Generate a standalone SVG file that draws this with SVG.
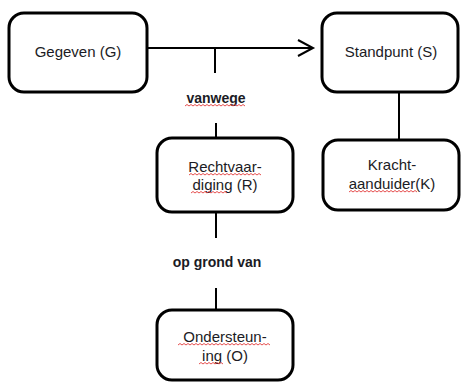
<svg xmlns="http://www.w3.org/2000/svg" width="461" height="382" viewBox="0 0 461 382">
<style>
.box{fill:#fff;stroke:#000;stroke-width:3}
.ln{fill:none;stroke:#000;stroke-width:2}
.t{font-family:"Liberation Sans",Arial,sans-serif;font-size:15px;fill:#1b1b24;text-anchor:middle}
.b{font-weight:bold;font-size:14px}
.sp{fill:none;stroke:#e23b3b;stroke-width:0.9}
</style>
<rect width="461" height="382" fill="#fff"/>
<g id="connectors">
<line class="ln" x1="147" y1="48" x2="313" y2="48"/>
<polyline class="ln" points="298,40 313,48 298,56"/>
<line class="ln" x1="215" y1="48" x2="215" y2="73"/>
<line class="ln" x1="216" y1="123" x2="216" y2="138"/>
<line class="ln" x1="216" y1="212" x2="216" y2="238"/>
<line class="ln" x1="216" y1="288" x2="216" y2="310"/>
<line class="ln" x1="399" y1="92" x2="399" y2="140"/>
<text class="t b" x="216" y="103">vanwege</text>
<path class="sp" d="M185,106 l2,-1.5 l2,1.5 l2,-1.5 l2,1.5 l2,-1.5 l2,1.5 l2,-1.5 l2,1.5 l2,-1.5 l2,1.5 l2,-1.5 l2,1.5 l2,-1.5 l2,1.5 l2,-1.5 l2,1.5 l2,-1.5 l2,1.5 l2,-1.5 l2,1.5 l2,-1.5 l2,1.5 l2,-1.5 l2,1.5 l2,-1.5 l2,1.5 l2,-1.5 l2,1.5 l2,-1.5 l2,1.5"/>
<text class="t b" x="217" y="267">op grond van</text>
</g>
<g id="node-G">
<rect class="box" x="9" y="13" width="138" height="79" rx="15"/>
<text class="t" x="78" y="57">Gegeven (G)</text>
</g>
<g id="node-S">
<rect class="box" x="322" y="13" width="136" height="79" rx="15"/>
<text class="t" x="391" y="57">Standpunt (S)</text>
</g>
<g id="node-R">
<rect class="box" x="157" y="138" width="136" height="74" rx="15"/>
<text class="t" x="225" y="172">Rechtvaar-</text>
<text class="t" x="225" y="190">diging (R)</text>
<path class="sp" d="M189,175 l2,-1.5 l2,1.5 l2,-1.5 l2,1.5 l2,-1.5 l2,1.5 l2,-1.5 l2,1.5 l2,-1.5 l2,1.5 l2,-1.5 l2,1.5 l2,-1.5 l2,1.5 l2,-1.5 l2,1.5 l2,-1.5 l2,1.5 l2,-1.5 l2,1.5 l2,-1.5 l2,1.5 l2,-1.5 l2,1.5 l2,-1.5 l2,1.5 l2,-1.5 l2,1.5 l2,-1.5 l2,1.5 l2,-1.5 l2,1.5 l2,-1.5 l2,1.5 l2,-1.5 l2,1.5"/>
<path class="sp" d="M191,193 l2,-1.5 l2,1.5 l2,-1.5 l2,1.5 l2,-1.5 l2,1.5 l2,-1.5 l2,1.5 l2,-1.5 l2,1.5 l2,-1.5 l2,1.5 l2,-1.5 l2,1.5 l2,-1.5 l2,1.5 l2,-1.5 l2,1.5"/>
</g>
<g id="node-K">
<rect class="box" x="323" y="140" width="136" height="70" rx="15"/>
<text class="t" x="392" y="170">Kracht-</text>
<text class="t" x="392" y="189">aanduider(K)</text>
<path class="sp" d="M349,192 l2,-1.5 l2,1.5 l2,-1.5 l2,1.5 l2,-1.5 l2,1.5 l2,-1.5 l2,1.5 l2,-1.5 l2,1.5 l2,-1.5 l2,1.5 l2,-1.5 l2,1.5 l2,-1.5 l2,1.5 l2,-1.5 l2,1.5 l2,-1.5 l2,1.5 l2,-1.5 l2,1.5 l2,-1.5 l2,1.5 l2,-1.5 l2,1.5 l2,-1.5 l2,1.5 l2,-1.5 l2,1.5 l2,-1.5 l2,1.5 l2,-1.5 l2,1.5"/>
</g>
<g id="node-O">
<rect class="box" x="157" y="310" width="136" height="70" rx="15"/>
<text class="t" x="225" y="342">Ondersteun-</text>
<text class="t" x="225" y="361">ing (O)</text>
<path class="sp" d="M178,345 l2,-1.5 l2,1.5 l2,-1.5 l2,1.5 l2,-1.5 l2,1.5 l2,-1.5 l2,1.5 l2,-1.5 l2,1.5 l2,-1.5 l2,1.5 l2,-1.5 l2,1.5 l2,-1.5 l2,1.5 l2,-1.5 l2,1.5 l2,-1.5 l2,1.5 l2,-1.5 l2,1.5 l2,-1.5 l2,1.5 l2,-1.5 l2,1.5 l2,-1.5 l2,1.5 l2,-1.5 l2,1.5 l2,-1.5 l2,1.5 l2,-1.5 l2,1.5 l2,-1.5 l2,1.5 l2,-1.5 l2,1.5 l2,-1.5 l2,1.5 l2,-1.5 l2,1.5 l2,-1.5 l2,1.5 l2,-1.5 l2,1.5"/>
<path class="sp" d="M199,364 l2,-1.5 l2,1.5 l2,-1.5 l2,1.5 l2,-1.5 l2,1.5 l2,-1.5 l2,1.5 l2,-1.5 l2,1.5 l2,-1.5 l2,1.5"/>
</g>
</svg>
